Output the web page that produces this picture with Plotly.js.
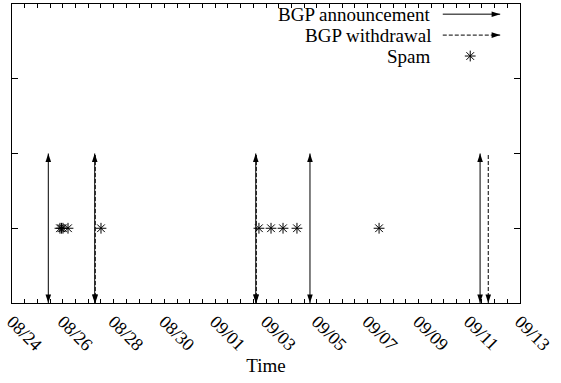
<!DOCTYPE html>
<html>
<head>
<meta charset="utf-8">
<script src="https://cdn.plot.ly/plotly-3.0.1.min.js"></script>
<style>
  html, body { margin: 0; padding: 0; background: #fff; }
  #chart { width: 561px; height: 383px; }
</style>
</head>
<body>
<div id="chart"></div>
<script>
// BGP events and spam arrivals over time
const announceTimes = ['2008-08-25 10:18', '2008-08-27 06:10', '2008-09-02 14:20',
                       '2008-09-04 17:33', '2008-09-11 10:17'];
const withdrawTimes = ['2008-08-27 06:40', '2008-09-02 14:50', '2008-09-11 18:00'];
const spamTimes = ['2008-08-25 21:20', '2008-08-25 22:45', '2008-08-26 00:10', '2008-08-26 04:55',
                   '2008-08-27 12:05', '2008-09-02 17:20', '2008-09-03 04:45', '2008-09-03 16:05',
                   '2008-09-04 05:15', '2008-09-07 10:50'];
const spamLevel = [1, 1, 1, 1, 1, 1, 1, 1, 1, 1];
const eventBase = 0;
const eventTop = 2;
const xRange = ['2008-08-24', '2008-09-13'];
const tickStart = '2008-08-24';
const legendLabels = ['BGP announcement', 'BGP withdrawal', 'Spam'];

const DAY = 86400000;
const serif = '"Liberation Serif", "Times New Roman", serif';

// vertical segments from eventBase to eventTop, separated by gaps
function segments(times) {
  const xs = [], ys = [];
  times.forEach(t => { xs.push(t, t, null); ys.push(eventBase, eventTop, null); });
  return { x: xs, y: ys };
}

const annSeg = segments(announceTimes);
const wdSeg = segments(withdrawTimes);
const headSize = 9;
const head = angle => ({ symbol: 'arrow', angle: angle, size: headSize, color: '#000', line: { width: 0 } });
const star = { symbol: 'asterisk-open', size: 9, color: '#000', line: { color: '#000', width: 1 } };

// key rows (overlay axis units, 0..1 over the plot area)
const keyY = [0.966, 0.896, 0.826];
const keyX0 = 0.848, keyX1 = 0.961, keyStarX = 0.902, keyTextX = 0.827;

const traces = [
  { x: annSeg.x, y: annSeg.y, mode: 'lines', line: { color: '#000', width: 1 } },
  { x: announceTimes, y: announceTimes.map(() => eventTop), mode: 'markers', marker: head(0) },
  { x: announceTimes, y: announceTimes.map(() => eventBase), mode: 'markers', cliponaxis: false, marker: head(180) },
  { x: wdSeg.x, y: wdSeg.y, mode: 'lines', line: { color: '#000', width: 1, dash: '4px,2px' } },
  { x: withdrawTimes, y: withdrawTimes.map(() => eventBase), mode: 'markers', cliponaxis: false, marker: head(180) },
  { x: spamTimes, y: spamLevel, mode: 'markers', marker: star },

  // key samples, drawn on an overlay axis pair spanning the plot area
  { x: [keyX0, keyX1], y: [keyY[0], keyY[0]], xaxis: 'x2', yaxis: 'y2', mode: 'lines',
    line: { color: '#000', width: 1 }, cliponaxis: false },
  { x: [keyX1], y: [keyY[0]], xaxis: 'x2', yaxis: 'y2', mode: 'markers', cliponaxis: false, marker: head(90) },
  { x: [keyX0, keyX1], y: [keyY[1], keyY[1]], xaxis: 'x2', yaxis: 'y2', mode: 'lines',
    line: { color: '#000', width: 1, dash: '4px,2px' }, cliponaxis: false },
  { x: [keyX1], y: [keyY[1]], xaxis: 'x2', yaxis: 'y2', mode: 'markers', cliponaxis: false, marker: head(90) },
  { x: [keyStarX], y: [keyY[2]], xaxis: 'x2', yaxis: 'y2', mode: 'markers', cliponaxis: false, marker: star },

  // empty trace so the top tick axis is laid out
  { x: [], y: [], xaxis: 'x3', yaxis: 'y', mode: 'markers' }
];

const annotations = legendLabels.map((txt, i) => ({
  text: txt, xref: 'x2', yref: 'y2', x: keyTextX, y: keyY[i],
  xanchor: 'right', yanchor: 'middle', showarrow: false, borderpad: 0,
  font: { family: serif, size: 19, color: '#000' }
}));

const dateTicks = {
  type: 'date', range: xRange, tick0: tickStart, dtick: 2 * DAY,
  ticks: 'inside', ticklen: 4, tickcolor: '#000',
  minor: { dtick: DAY / 2, ticks: 'inside', ticklen: 4, tickcolor: '#000' },
  showgrid: false, zeroline: false
};

const layout = {
  width: 561, height: 383,
  margin: { l: 12, r: 41, t: 4, b: 80 },
  paper_bgcolor: '#fff', plot_bgcolor: '#fff',
  showlegend: false,
  font: { family: serif, size: 18, color: '#000' },
  xaxis: Object.assign({}, dateTicks, {
    tickformat: '%m/%d', tickangle: 45,
    showline: true, linecolor: '#000', linewidth: 1, mirror: 'ticks',
    tickfont: { family: serif, size: 18, color: '#000' },
    title: { text: 'Time', font: { family: serif, size: 19, color: '#000' }, standoff: 4 }
  }),
  xaxis3: Object.assign({}, dateTicks, {
    overlaying: 'x', side: 'top', anchor: 'y', showticklabels: false, showline: false
  }),
  yaxis: {
    range: [0, 4], tickvals: [1, 2, 3], showticklabels: false,
    ticks: 'inside', ticklen: 6, tickcolor: '#000',
    showline: true, linecolor: '#000', linewidth: 1, mirror: 'ticks',
    showgrid: false, zeroline: false
  },
  xaxis2: { overlaying: 'x', range: [0, 1], visible: false, fixedrange: true },
  yaxis2: { overlaying: 'y', range: [0, 1], visible: false, fixedrange: true },
  annotations: annotations
};

Plotly.newPlot('chart', traces, layout, { staticPlot: true, displayModeBar: false });
</script>
</body>
</html>
